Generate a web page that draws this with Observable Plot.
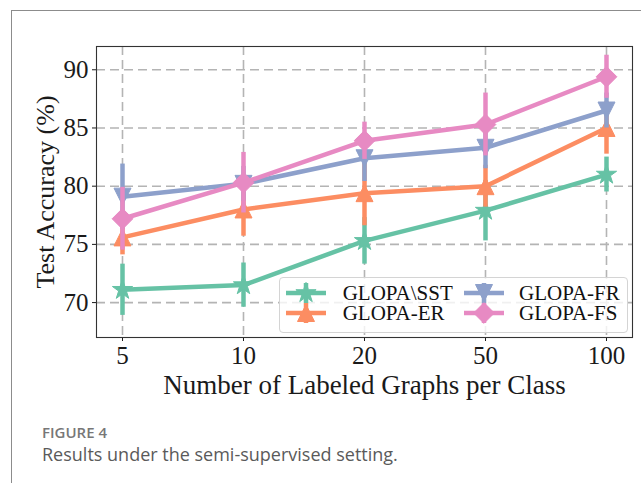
<!DOCTYPE html>
<html>
<head>
<meta charset="utf-8">
<script src="https://cdn.jsdelivr.net/npm/d3@7"></script>
<script src="https://cdn.jsdelivr.net/npm/@observablehq/plot@0.6"></script>
<style>
  html, body { margin: 0; padding: 0; background: #fff; width: 641px; height: 483px; overflow: hidden; }
  #wrap { position: relative; width: 641px; height: 483px; }
  #frame { position: absolute; left: 11px; top: 10px; width: 700px; height: 600px; border-left: 1.2px solid #8c8c8c; border-top: 1.2px solid #8c8c8c; }
  #chart { position: absolute; left: 0; top: 0; }
  #legend { position: absolute; left: 279px; top: 277px; width: 349px; height: 56px; box-sizing: border-box;
            background: rgba(255,255,255,0.8); border: 1px solid #d4d4d4; border-radius: 4px; }
  .lg-text { position: absolute; font-family: 'Liberation Serif', 'Times New Roman', serif; font-size: 21px; color: #111; line-height: 18px; white-space: nowrap; }
  .lg-handle { position: absolute; }
  #fig { position: absolute; left: 42px; top: 424.7px; font-family: 'Open Sans', sans-serif; font-size: 15px; line-height: 15px; font-weight: 600; color: #777; white-space: nowrap; }
  #cap { position: absolute; left: 42px; top: 445px; font-family: 'Open Sans', sans-serif; font-size: 18px; line-height: 18px; color: #5a5a5a; white-space: nowrap; }
</style>
</head>
<body>
<div id="wrap">
  <div id="frame"></div>
  <div id="chart"></div>
  <div id="legend"></div>
  <div id="fig">FIGURE 4</div>
  <div id="cap">Results under the semi-supervised setting.</div>
</div>
<script>
// ---- data ----
const xLabels = ["5", "10", "20", "50", "100"];
const yTicks = [70, 75, 80, 85, 90];
const seriesNames = ["GLOPA\\SST", "GLOPA-ER", "GLOPA-FR", "GLOPA-FS"];
const seriesColors = ["#66c2a5", "#fc8d62", "#8da0cb", "#e78ac3"];
const sstMean = [71.1, 71.5, 75.3, 77.9, 81.0];
const sstErr  = [2.2, 1.9, 2.0, 2.6, 1.5];
const erMean  = [75.6, 78.0, 79.4, 80.0, 85.0];
const erErr   = [1.5, 2.3, 2.8, 1.8, 2.25];
const frMean  = [79.1, 80.2, 82.4, 83.3, 86.5];
const frErr   = [2.8, 1.5, 2.0, 1.8, 1.5];
const fsMean  = [77.2, 80.3, 83.9, 85.3, 89.4];
const fsErr   = [2.7, 2.6, 1.6, 2.7, 1.85];
const xTitle = "Number of Labeled Graphs per Class";
const yTitle = "Test Accuracy (%)";

// ---- marker symbols (matplotlib-like) ----
const rad = (size) => Math.sqrt(size / Math.PI);
const starSym = { draw(ctx, size) {
  const R = 1.25 * rad(size), r = R * 0.381966;
  for (let k = 0; k < 10; k++) {
    const a = -Math.PI / 2 + k * Math.PI / 5, rr = k % 2 ? r : R;
    const px = rr * Math.cos(a), py = rr * Math.sin(a);
    k ? ctx.lineTo(px, py) : ctx.moveTo(px, py);
  }
  ctx.closePath();
}};
const triUp = { draw(ctx, size) { const r = rad(size);
  ctx.moveTo(0, -r); ctx.lineTo(r, r); ctx.lineTo(-r, r); ctx.closePath(); } };
const triDown = { draw(ctx, size) { const r = rad(size);
  ctx.moveTo(0, r); ctx.lineTo(r, -r); ctx.lineTo(-r, -r); ctx.closePath(); } };
const diamondSym = { draw(ctx, size) { const r = 1.22 * rad(size);
  ctx.moveTo(0, -r); ctx.lineTo(r, 0); ctx.lineTo(0, r); ctx.lineTo(-r, 0); ctx.closePath(); } };
const seriesSymbols = [starSym, triUp, triDown, diamondSym];

const means = [sstMean, erMean, frMean, fsMean];
const errs = [sstErr, erErr, frErr, fsErr];
const rows = seriesNames.map((s, k) => xLabels.map((x, i) => ({ series: s, x, mean: means[k][i], err: errs[k][i] })));

const LW = 4.5, R = 8.5;
const seriesMarks = rows.flatMap((data, k) => [
  Plot.line(data, { x: "x", y: "mean", stroke: seriesColors[k], strokeWidth: LW }),
  Plot.ruleX(data, { x: "x", y1: d => d.mean - d.err, y2: d => d.mean + d.err, stroke: seriesColors[k], strokeWidth: LW }),
  Plot.dot(data, { x: "x", y: "mean", symbol: seriesSymbols[k], r: R, fill: seriesColors[k], stroke: seriesColors[k], strokeWidth: 1 })
]);

const gridStyle = { stroke: "#b4b4b4", strokeOpacity: 1, strokeWidth: 1.6, strokeDasharray: "9,5" };

const chart = Plot.plot({
  width: 641, height: 400,
  marginLeft: 96, marginRight: 9, marginTop: 46, marginBottom: 63,
  style: { fontFamily: "'Liberation Serif', 'Times New Roman', serif", fontSize: "25px", color: "#1a1a1a", background: "transparent", overflow: "visible" },
  x: { type: "point", domain: xLabels, padding: 0.2 },
  y: { domain: [67, 92] },
  marks: [
    Plot.gridX(xLabels, gridStyle),
    Plot.gridY(yTicks, gridStyle),
    Plot.axisX(xLabels, { tickSize: 4, tickPadding: 5, label: null, fontSize: 25 }),
    Plot.axisY(yTicks, { tickSize: 4, tickPadding: 4, label: null, fontSize: 25 }),
    ...seriesMarks,
    Plot.frame({ stroke: "#333", strokeWidth: 1.1 }),
    Plot.text([xTitle], { text: d => d, frameAnchor: "bottom", textAnchor: "middle", lineAnchor: "middle", dy: 48, fontSize: 27, fill: "#1a1a1a" }),
    Plot.text([yTitle], { text: d => d, frameAnchor: "left", textAnchor: "middle", lineAnchor: "middle", rotate: -90, dx: -51, fontSize: 26, fill: "#1a1a1a" })
  ]
});
document.getElementById("chart").appendChild(chart);

// ---- legend ----
const legend = d3.select("#legend");
const slots = [
  { hx: 26, hy: 14.7, tx: 62.7 },
  { hx: 26, hy: 34.7, tx: 62.7 },
  { hx: 204, hy: 14.7, tx: 239 },
  { hx: 204, hy: 34.7, tx: 239 }
];
seriesNames.forEach((name, k) => {
  const s = slots[k];
  const svg = legend.append("svg").attr("class", "lg-handle")
    .attr("width", 44).attr("height", 26)
    .style("left", (s.hx - 22) + "px").style("top", (s.hy - 13) + "px");
  const c = seriesColors[k];
  svg.append("line").attr("x1", 2).attr("x2", 42).attr("y1", 13).attr("y2", 13).attr("stroke", c).attr("stroke-width", LW);
  svg.append("line").attr("x1", 22).attr("x2", 22).attr("y1", 3).attr("y2", 23).attr("stroke", c).attr("stroke-width", LW);
  svg.append("path").attr("transform", "translate(22,13)")
    .attr("d", d3.symbol(seriesSymbols[k], R * R * Math.PI)())
    .attr("fill", c).attr("stroke", c).attr("stroke-width", 1);
  legend.append("div").attr("class", "lg-text").text(name)
    .style("left", s.tx + "px").style("top", (s.hy - 9) + "px");
});
</script>
</body>
</html>
